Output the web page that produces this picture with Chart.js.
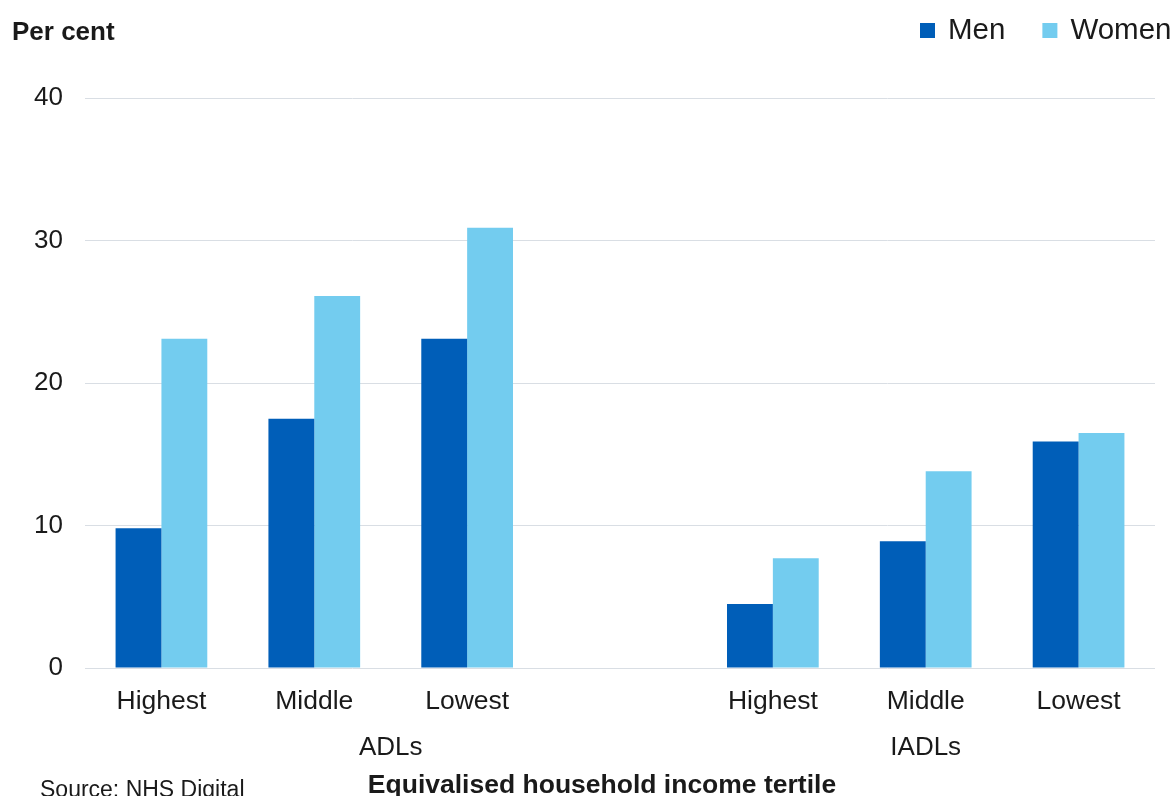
<!DOCTYPE html>
<html>
<head>
<meta charset="utf-8">
<script src="https://cdn.jsdelivr.net/npm/chart.js@4/dist/chart.umd.min.js"></script>
<style>
  html, body { margin: 0; padding: 0; background: #fff; }
  #wrap { width: 1175px; height: 796px; position: relative; }
</style>
</head>
<body>
<div id="wrap"><canvas id="chart"></canvas></div>
<script>
// data
const categories = ['Highest', 'Middle', 'Lowest', '', 'Highest', 'Middle', 'Lowest'];
const menValues = [9.8, 17.5, 23.1, null, 4.5, 8.9, 15.9];
const womenValues = [23.1, 26.1, 30.9, null, 7.7, 13.8, 16.5];
const yTicks = [0, 10, 20, 30, 40];
const groupLabels = ['ADLs', 'IADLs'];

const FONT = '"Liberation Sans", Arial, sans-serif';
const TEXT = '#1a1a1a';

// extra text + legend drawn on the canvas
const extras = {
    id: 'extras',
    afterDraw(chart) {
        const ctx = chart.ctx;
        const x = chart.scales.x;
        ctx.save();
        ctx.fillStyle = TEXT;
        ctx.textBaseline = 'middle';

        // y axis caption
        ctx.font = 'bold 26px ' + FONT;
        ctx.textAlign = 'left';
        ctx.fillText('Per cent', 12, 33);

        // group labels under the category ticks
        ctx.font = '26px ' + FONT;
        ctx.textAlign = 'center';
        const adlX = (x.getPixelForValue(0) + x.getPixelForValue(3)) / 2;
        ctx.fillText(groupLabels[0], adlX, 748);
        ctx.fillText(groupLabels[1], x.getPixelForValue(5), 748);

        // x axis title
        ctx.font = 'bold 26.5px ' + FONT;
        ctx.fillText('Equivalised household income tertile', 602, 786);

        // source
        ctx.font = '23px ' + FONT;
        ctx.textAlign = 'left';
        ctx.fillText('Source: NHS Digital', 40, 791);

        // legend
        ctx.font = '29.5px ' + FONT;
        let lx = 920;
        chart.data.datasets.forEach(ds => {
            ctx.fillStyle = ds.backgroundColor;
            ctx.fillRect(lx, 23, 15, 15);
            ctx.fillStyle = TEXT;
            ctx.fillText(ds.label, lx + 28, 31);
            lx += 28 + ctx.measureText(ds.label).width + 37;
        });
        ctx.restore();
    }
};

new Chart(document.getElementById('chart').getContext('2d'), {
    type: 'bar',
    data: {
        labels: categories,
        datasets: [
            { label: 'Men', data: menValues, backgroundColor: '#005EB8' },
            { label: 'Women', data: womenValues, backgroundColor: '#73CCEF' }
        ]
    },
    options: {
        responsive: true,
        maintainAspectRatio: false,
        animation: false,
        layout: { padding: { top: 98, right: 20, left: 0, bottom: 0 } },
        datasets: { bar: { categoryPercentage: 0.6, barPercentage: 1.0 } },
        plugins: { legend: { display: false }, tooltip: { enabled: false } },
        scales: {
            x: {
                grid: { display: false, drawTicks: false },
                border: { display: false },
                ticks: { color: TEXT, font: { family: FONT, size: 26.5 }, padding: 18, maxRotation: 0, autoSkip: false },
                afterFit: s => { s.height = 128; }
            },
            y: {
                min: 0, max: 40,
                afterBuildTicks: s => { s.ticks = yTicks.map(v => ({ value: v })); },
                grid: { color: '#D9DEE4', lineWidth: 1, drawTicks: false },
                border: { display: false },
                ticks: { color: TEXT, font: { family: FONT, size: 26 }, padding: 22 },
                afterFit: s => { s.width = 85; }
            }
        }
    },
    plugins: [extras]
});
</script>
</body>
</html>
